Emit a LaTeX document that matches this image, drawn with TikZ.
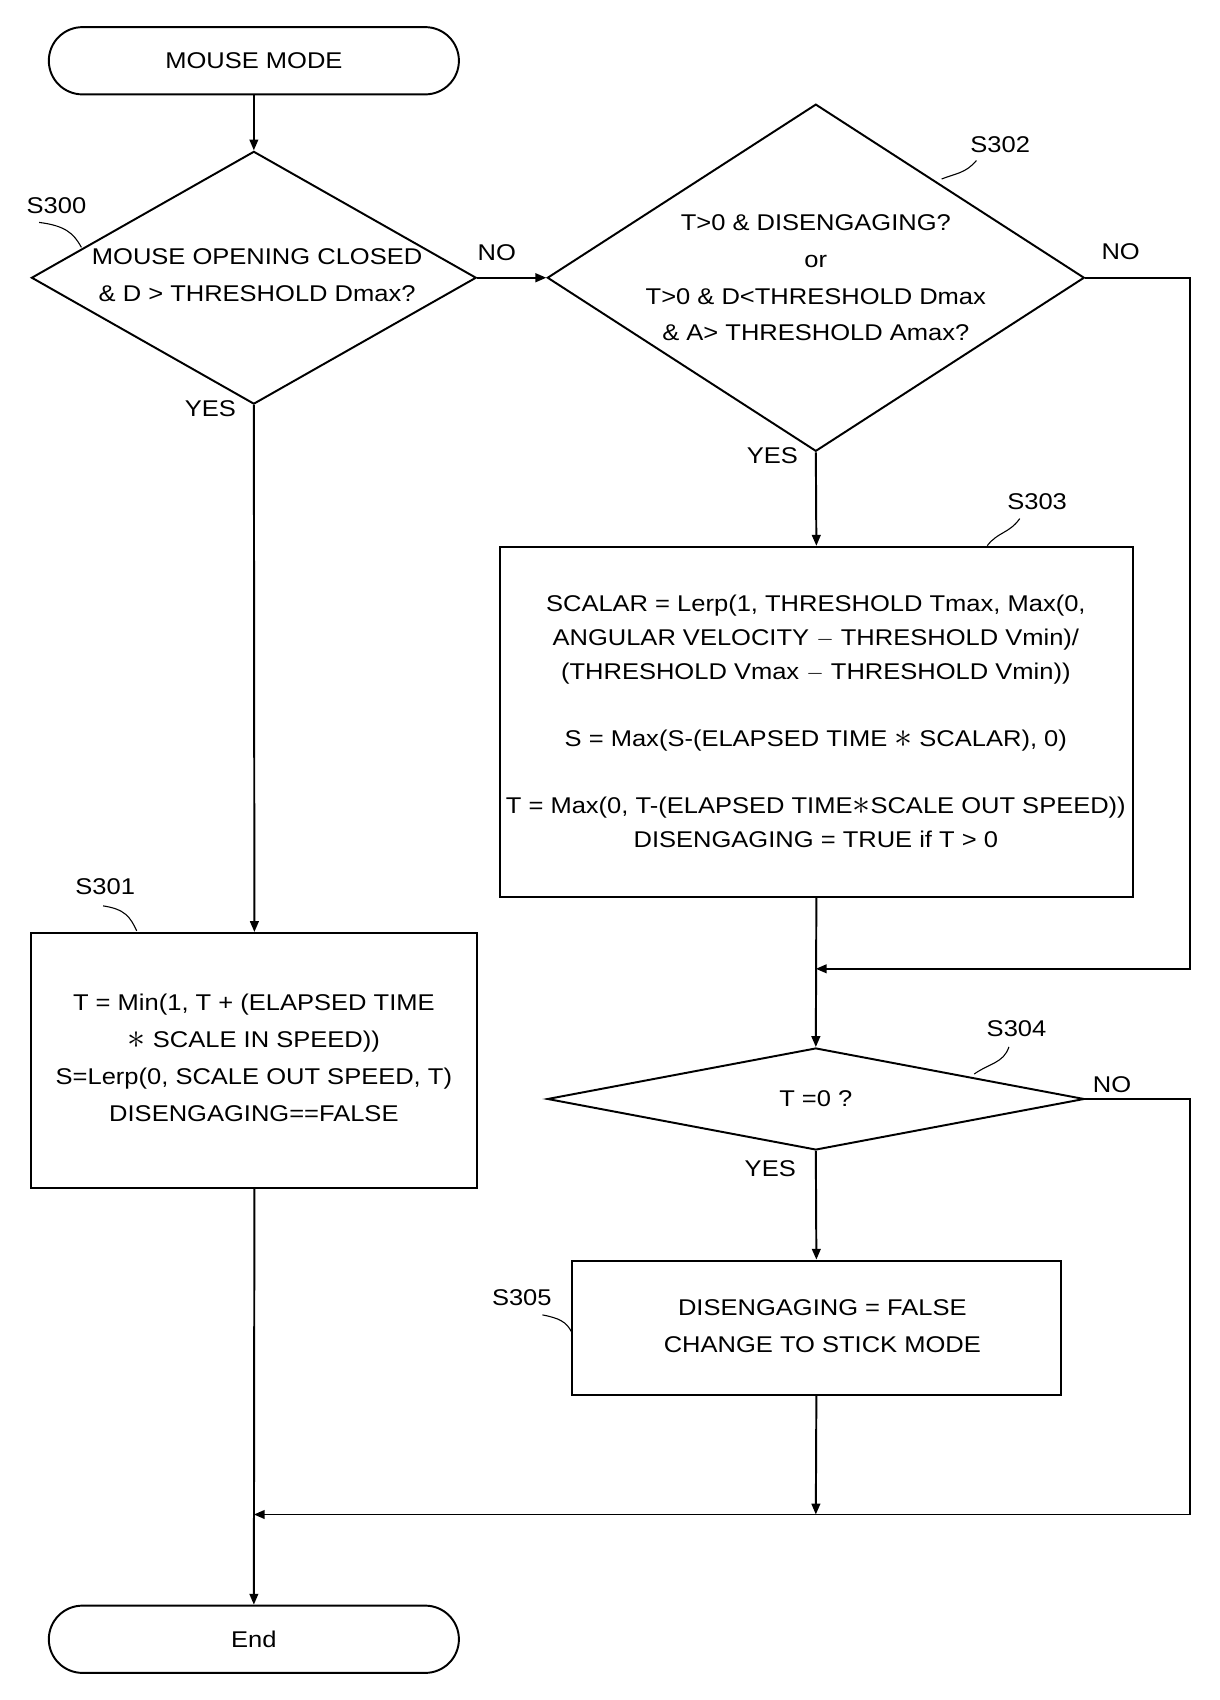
\documentclass[tikz,border=0pt]{standalone}
\usepackage{fontspec}
\setmainfont{Liberation Sans}[FakeStretch=1.12]
\usetikzlibrary{shapes.geometric,arrows.meta}
\newcommand{\stt}{\raisebox{-1pt}{\scalebox{1.6}{$*$}}}
\begin{document}
\begin{tikzpicture}[x=1pt,y=-1pt,line width=1.8pt,
 every node/.style={font=\fontsize{21}{25}\selectfont},
 term/.style={draw,rounded corners=31pt,minimum width=378pt,minimum height=62pt},
 dia/.style={draw,diamond,inner sep=0pt,aspect=1},
 box/.style={draw,rectangle,inner sep=0pt},
 arr/.style={-{Triangle[length=10pt,width=8pt]}},
 tx/.style={align=center}]
\useasboundingbox (0,0) rectangle (1124,1567);
\node[term] (start) at (234,56) {MOUSE MODE};
\node[dia,minimum width=410pt,minimum height=233pt] (d300) at (234,256) {};
\node[tx,font=\fontsize{21}{34}\selectfont] (t300) at (237,254) {MOUSE OPENING CLOSED\\\& D > THRESHOLD Dmax?};
\node[dia,minimum width=495pt,minimum height=320pt] (d302) at (752,256) {};
\node[tx,font=\fontsize{21}{34}\selectfont] (t302) at (752,256) {T>0 \& DISENGAGING?\\or\\T>0 \& D<THRESHOLD Dmax\\\& A> THRESHOLD Amax?};
\node[box,minimum width=583pt,minimum height=323pt] (b303) at (752.5,665.5) {};
\node[tx,font=\fontsize{21}{31}\selectfont] (t303) at (752,665) {SCALAR = Lerp(1, THRESHOLD Tmax, Max(0,\\ANGULAR VELOCITY $-$ THRESHOLD Vmin)/\\(THRESHOLD Vmax $-$ THRESHOLD Vmin))\\[31pt]S = Max(S-(ELAPSED TIME \stt\ SCALAR), 0)\\[31pt]T = Max(0, T-(ELAPSED TIME\stt SCALE OUT SPEED))\\DISENGAGING = TRUE if T > 0};
\node[box,minimum width=411pt,minimum height=235pt] (b301) at (234.5,977.5) {};
\node[tx,font=\fontsize{21}{34}\selectfont] (t301) at (234,975) {T = Min(1, T + (ELAPSED TIME\\\stt\ SCALE IN SPEED))\\S=Lerp(0, SCALE OUT SPEED, T)\\DISENGAGING==FALSE};
\node[dia,minimum width=495pt,minimum height=94pt] (d304) at (752,1013) {};
\node (t304) at (752,1013) {T =0 ?};
\node[box,minimum width=451pt,minimum height=124pt] (b305) at (752.5,1224) {};
\node[tx,font=\fontsize{21}{34}\selectfont] (t305) at (758,1222) {DISENGAGING = FALSE\\CHANGE TO STICK MODE};
\node[term] (end) at (234,1511) {End};
% step labels
\node (l300) at (52,190) {S300};
\node (l302) at (922,133) {S302};
\node (l303) at (956,462) {S303};
\node (l301) at (97,817) {S301};
\node (l304) at (937,948) {S304};
\node (l305) at (481,1196) {S305};
\draw[line width=1pt] (36,205) .. controls (60,208) and (68,215) .. (75,228);
\draw[line width=1pt] (900,148) .. controls (890,160) and (880,160) .. (868,165);
\draw[line width=1pt] (940,478) .. controls (930,492) and (920,490) .. (910,503);
\draw[line width=1pt] (95,835) .. controls (115,838) and (120,845) .. (126,858);
\draw[line width=1pt] (930,965) .. controls (925,980) and (912,980) .. (898,990);
\draw[line width=1pt] (500,1212) .. controls (515,1215) and (522,1218) .. (527,1228);
% answers
\node at (458,233) {NO};
\node at (194,377) {YES};
\node at (1033,232) {NO};
\node at (712,420) {YES};
\node at (1025,1000) {NO};
\node at (710,1077) {YES};
% connectors
\coordinate (j1) at (752,893);
\coordinate (j2) at (234,1396);
\coordinate (j3) at (752,1396);
\draw[arr] (start) -- (d300.north);
\draw[arr] (d300.east) -- (d302.west);
\draw[arr] (d300.south) -- (b301.north);
\draw[arr] (d302.south) -- (b303.north);
\draw[arr] (d302.east) -- (1097,256) -- (1097,893) -- (j1);
\draw[arr] (b303.south) -- (d304.north);
\draw[arr] (d304.south) -- (b305.north);
\draw[arr] (d304.east) -- (1097,1013) -- (1097,1396) -- (j2);
\draw[arr] (b305.south) -- (j3);
\draw[arr] (b301.south) -- (end.north);
\end{tikzpicture}
\end{document}
